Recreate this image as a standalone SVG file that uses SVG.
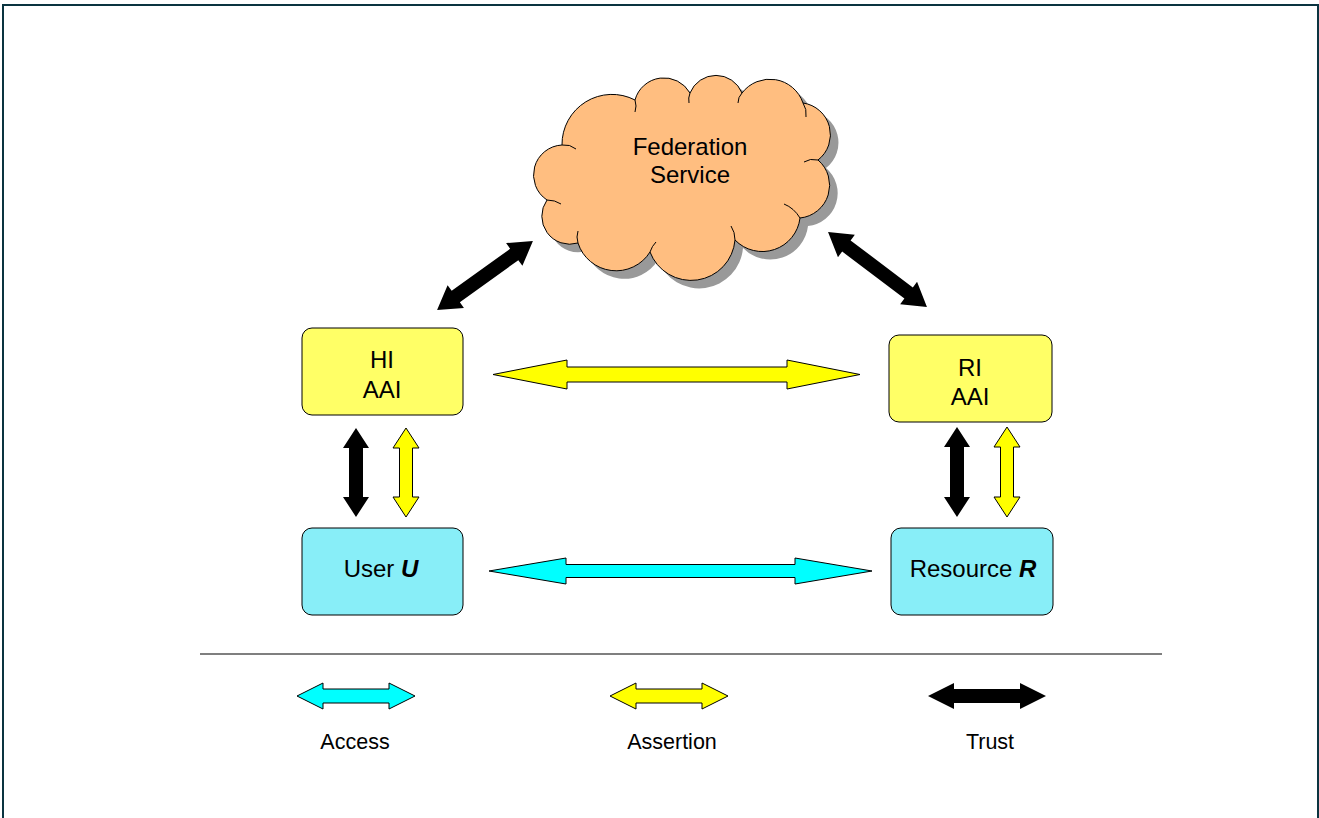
<svg xmlns="http://www.w3.org/2000/svg" width="1319" height="818" viewBox="0 0 1319 818">
<style>
.t{font-family:"Liberation Sans",Arial,sans-serif;font-size:24px;fill:#000;text-anchor:middle}
.lg{font-family:"Liberation Sans",Arial,sans-serif;font-size:21.5px;fill:#000;text-anchor:middle}
.box{stroke:#000;stroke-width:1}
.yb{fill:#FFFF66}
.cb{fill:#88EEF8}
.ya{fill:#FFFF00;stroke:#000;stroke-width:1;stroke-linejoin:miter}
.ca{fill:#00FFFF;stroke:#000;stroke-width:1}
.ba{fill:#000}
</style>
<rect x="3" y="5" width="1315" height="830" fill="#fff" stroke="#0a3440" stroke-width="2"/>
<g id="cloud">
<path transform="translate(8,8)" fill="#999" d="M547,200 A30,30 0 0 1 562,145 A50,50 0 0 1 635,100 A30,30 0 0 1 690,93 A28,28 0 0 1 742,93 A35,35 0 0 1 803,103 A32,32 0 0 1 818,160 A33,33 0 0 1 800,218 A38,38 0 0 1 735,240 A44,44 0 0 1 650,252 A40,40 0 0 1 578,243 A28,28 0 0 1 547,200 Z"/>
<path fill="#FFBE80" stroke="#000" stroke-width="1" d="M547,200 A30,30 0 0 1 562,145 A50,50 0 0 1 635,100 A30,30 0 0 1 690,93 A28,28 0 0 1 742,93 A35,35 0 0 1 803,103 A32,32 0 0 1 818,160 A33,33 0 0 1 800,218 A38,38 0 0 1 735,240 A44,44 0 0 1 650,252 A40,40 0 0 1 578,243 A28,28 0 0 1 547,200 Z"/>
<path fill="none" stroke="#000" stroke-width="1" d="M562,145 q8,-1 14,4 M635,100 q2,6 0,12 M690,93 q-2,5 -1,10 M742,93 q-4,4 -4,10 M803,103 q4,6 3,14 M818,160 q-8,-2 -14,2 M800,218 q-6,-10 -16,-14 M735,240 q0,-8 -4,-14 M650,252 q2,-6 6,-10 M578,243 q-2,-6 0,-12 M547,200 q8,0 14,4"/>
<text class="t" x="690" y="155">Federation</text>
<text class="t" x="690" y="183">Service</text>
</g>
<g id="hi-aai">
<rect class="box yb" x="302" y="328" width="161" height="87" rx="10"/>
<text class="t" x="382" y="368">HI</text>
<text class="t" x="382" y="398">AAI</text>
</g>
<g id="ri-aai">
<rect class="box yb" x="889" y="335" width="163" height="87" rx="10"/>
<text class="t" x="970" y="376">RI</text>
<text class="t" x="970" y="405">AAI</text>
</g>
<g id="user">
<rect class="box cb" x="302" y="528" width="161" height="87" rx="10"/>
<text class="t" x="381" y="577">User <tspan font-weight="bold" font-style="italic">U</tspan></text>
</g>
<g id="resource">
<rect class="box cb" x="891" y="528" width="162" height="87" rx="10"/>
<text class="t" x="973" y="577">Resource <tspan font-weight="bold" font-style="italic">R</tspan></text>
</g>
<g id="connectors">
<polygon class="ba" transform="translate(485,275.5) rotate(-35.7)" points="-59,0 -36,-14 -36,-7 36,-7 36,-14 59,0 36,14 36,7 -36,7 -36,14"/>
<polygon class="ba" transform="translate(877.5,269.5) rotate(37.1)" points="-62,0 -39,-14 -39,-7 39,-7 39,-14 62,0 39,14 39,7 -39,7 -39,14"/>
<polygon class="ya" points="493,374.5 567,360 567,367 787,367 787,360 860,374.5 787,389 787,382 567,382 567,389"/>
<polygon class="ca" points="489,571 566,558 566,564.5 795,564.5 795,558 872,571 795,584 795,577.5 566,577.5 566,584"/>
<polygon class="ba" points="356,428 369,448 363,448 363,497 369,497 356,517 343,497 349,497 349,448 343,448"/>
<polygon class="ya" points="406,428 419,448 412.5,448 412.5,497 419,497 406,517 393,497 399.5,497 399.5,448 393,448"/>
<polygon class="ba" points="957,427 970,447 964,447 964,497 970,497 957,517 944,497 950,497 950,447 944,447"/>
<polygon class="ya" points="1007,427 1020,447 1013.5,447 1013.5,497 1020,497 1007,517 994,497 1000.5,497 1000.5,447 994,447"/>
</g>
<line x1="200" y1="654" x2="1162" y2="654" stroke="#555" stroke-width="1.5"/>
<g id="legend">
<polygon class="ca" points="297,696 323,683 323,689 389,689 389,683 415,696 389,709 389,703 323,703 323,709"/>
<polygon class="ya" points="610,696 636,683 636,689 702,689 702,683 728,696 702,709 702,703 636,703 636,709"/>
<polygon class="ba" points="928,696 954,683 954,689 1020,689 1020,683 1046,696 1020,709 1020,703 954,703 954,709"/>
<text class="lg" x="355" y="749">Access</text>
<text class="lg" x="672" y="749">Assertion</text>
<text class="lg" x="990" y="749">Trust</text>
</g>
</svg>
